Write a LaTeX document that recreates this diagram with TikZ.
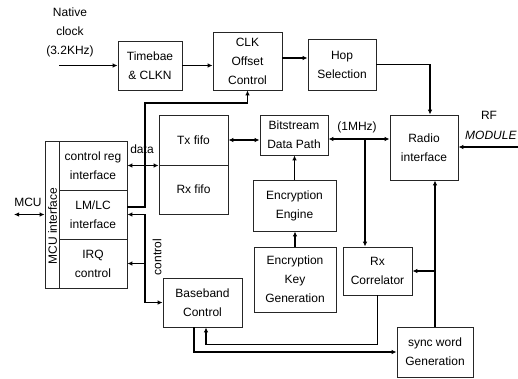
\documentclass[tikz,border=0pt]{standalone}
\usepackage{fontspec}
\setmainfont{Liberation Sans}
\usetikzlibrary{arrows.meta,calc}
\begin{document}
\begin{tikzpicture}[x=1pt,y=-1pt,
  font=\fontsize{12}{19}\selectfont,
  blk/.style={draw=black!85,line width=0.8pt,inner sep=0pt,align=center},
  lbl/.style={inner sep=0pt,align=center},
  conn/.style={line width=1.2pt,-{Latex[length=5pt,width=4.5pt]}},
  rconn/.style={line width=1.2pt,{Latex[length=5pt,width=4.5pt]}-},
  bconn/.style={line width=1.2pt,{Latex[length=5pt,width=4.5pt]}-{Latex[length=5pt,width=4.5pt]}},
  plain/.style={line width=1.2pt}]
\useasboundingbox (0,0) rectangle (518,378);
% blocks
\node[blk,minimum width=64pt,minimum height=49pt] (tb) at (150,65.5) {Timebae\\\& CLKN};
\node[blk,minimum width=69pt,minimum height=58pt] (clk) at (247.5,61) {CLK\\Offset\\Control};
\node[blk,minimum width=68pt,minimum height=51pt] (hop) at (342,64.5) {Hop\\Selection};
\node[blk,minimum width=68pt,minimum height=65pt] (radio) at (424,147.5) {Radio\\interface};
\node[blk,minimum width=68pt,minimum height=40pt] (bit) at (294,135) {Bitstream\\Data Path};
\node[blk,minimum width=83pt,minimum height=51pt] (eng) at (294.5,205.5) {Encryption\\Engine};
\node[blk,minimum width=82pt,minimum height=65pt] (key) at (295,279.5) {Encryption\\Key\\Generation};
\node[blk,minimum width=69pt,minimum height=48pt] (rxc) at (377.5,271) {Rx\\Correlator};
\node[blk,minimum width=76pt,minimum height=50pt] (sync) at (435,352) {sync word\\Generation};
\node[blk,minimum width=79pt,minimum height=49pt] (bb) at (202.5,302.5) {Baseband\\Control};
\node[blk,minimum width=69pt,minimum height=50pt] (tx) at (193.5,140) {Tx fifo};
\node[blk,minimum width=69pt,minimum height=49pt] (rx) at (193.5,189.5) {Rx fifo};
\node[blk,minimum width=14pt,minimum height=147pt] (strip) at (52,214.5) {};
\node[lbl,rotate=90] (mcul) at (52.5,226) {MCU interface};
\node[blk,minimum width=68pt,minimum height=49pt] (creg) at (93,165.5) {control reg\\interface};
\node[blk,minimum width=68pt,minimum height=49pt] (lmlc) at (93,214.5) {LM/LC\\interface};
\node[blk,minimum width=68pt,minimum height=49pt] (irq) at (93,263.5) {IRQ\\control};
% labels
\node[lbl] (nat) at (70,32) {Native\\clock\\(3.2KHz)};
\node[lbl] (mhz) at (357,127) {(1MHz)};
\node[lbl] (rf) at (489,115) {RF};
\node[lbl,anchor=west] (mod) at (465,135) {\itshape MODULE};
\node[lbl] (mcu) at (28,202) {MCU};
\node[lbl] (data) at (142,149) {data};
\node[lbl,rotate=90] (ctl) at (157,257) {control};
% coordinates
\coordinate (clkin) at (59,65.5);
\coordinate (rfout) at (520,147);
\coordinate (mcuin) at (14,214.5);
\coordinate (cx) at (145,0);
\coordinate (j1) at (365,139);
% connectors
\draw[conn] (clkin) -- (tb.west);
\draw[conn] (tb.east) -- (tb.east -| clk.west);
\draw[conn] ([yshift=3pt]clk.east) -- ([yshift=3pt]clk.east -| hop.west);
\draw[conn] (hop.east) -| ([xshift=6pt]radio.north);
\draw[bconn] (bit.east |- j1) -- (j1 -| radio.west);
\draw[conn] (j1) -- (j1 |- rxc.north);
\draw[bconn] (tx.east) -- (tx.east -| bit.west);
\draw[conn] (eng.north) -- (eng.north |- bit.south);
\draw[conn] (key.north) -- (key.north |- eng.south);
\draw[conn] (sync.north) -- (sync.north |- radio.south);
\draw[conn] (rxc.east -| sync.north) -- (rxc.east);
\draw[conn] (rxc.south) -- ++(0,49) -| ([xshift=3.5pt]bb.south);
\draw[conn] ([xshift=-8.5pt]bb.south) |- (sync.west);
\draw[bconn] (mcuin) -- (strip.west);
\draw[bconn] (creg.east) -- (creg.east -| tx.west);
\draw[conn] ([yshift=7.5pt]lmlc.east) -- ([yshift=7.5pt]lmlc.east -| cx) -- ++(0,-104) -| (clk.south);
\draw[bconn] (lmlc.east) -- (lmlc.east -| cx) |- (bb.west);
\draw[conn] (irq.east -| cx) -- (irq.east);
\draw[rconn] (radio.east |- rfout) -- (rfout);
\end{tikzpicture}
\end{document}
